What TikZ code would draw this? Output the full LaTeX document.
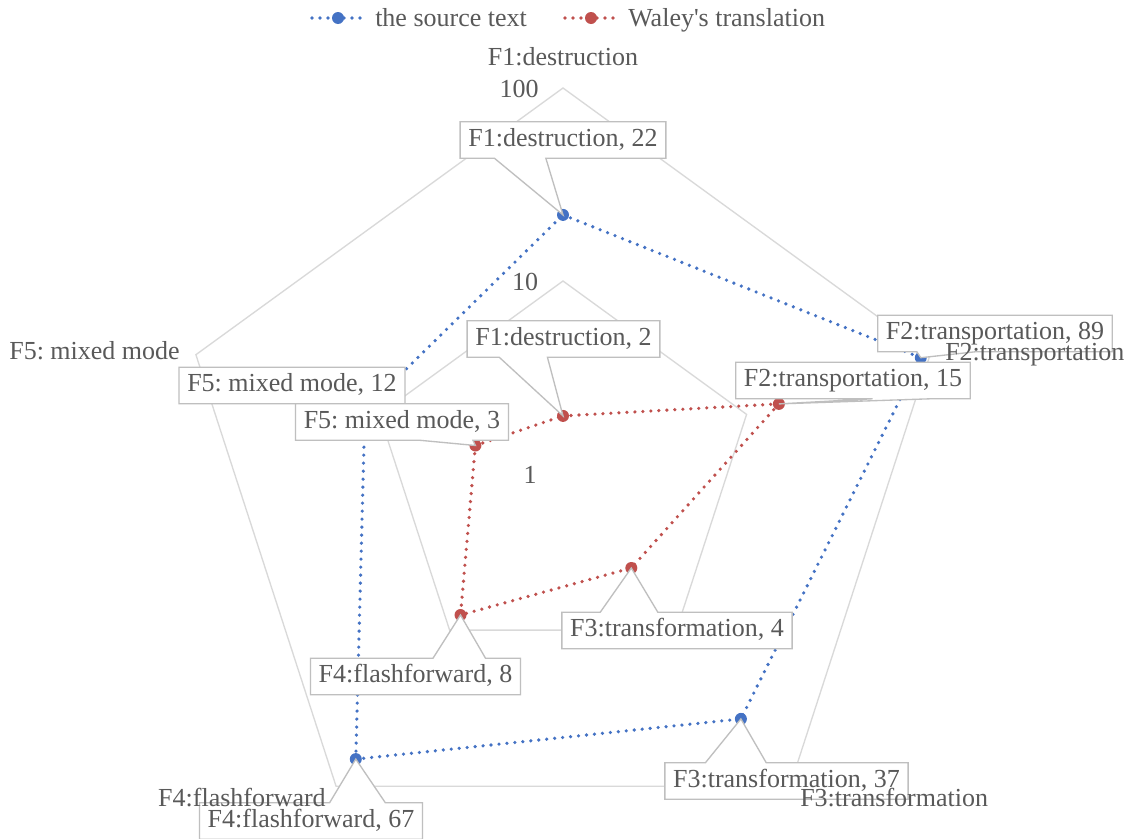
\documentclass[tikz,border=0pt]{standalone}
\usepackage{fontspec}
\setmainfont{Liberation Serif}[Ligatures=TeXOff]
\usetikzlibrary{calc}
\definecolor{txtgray}{RGB}{89,89,89}
\definecolor{gridgray}{RGB}{217,217,217}
\definecolor{boxgray}{RGB}{191,191,191}
\definecolor{srcblue}{RGB}{68,114,196}
\definecolor{walred}{RGB}{192,80,77}
\pgfdeclarelayer{bg}
\pgfdeclarelayer{back}
\pgfdeclarelayer{marks}
\pgfdeclarelayer{mid}
\pgfsetlayers{bg,back,marks,mid,main}
% callout outline with the wedge on the bottom edge: node, fraction1, fraction2, tip
\newcommand\cobottom[4]{%
  \begin{pgfonlayer}{mid}
  \draw[calloutline] (#1.north west) -- (#1.north east) -- (#1.south east)
    -- ($(#1.south west)!#3!(#1.south east)$) -- (#4)
    -- ($(#1.south west)!#2!(#1.south east)$) -- (#1.south west) -- cycle;
  \end{pgfonlayer}}
% callout outline with the wedge on the top edge
\newcommand\cotop[4]{%
  \begin{pgfonlayer}{mid}
  \draw[calloutline] (#1.south west) -- (#1.south east) -- (#1.north east)
    -- ($(#1.north west)!#3!(#1.north east)$) -- (#4)
    -- ($(#1.north west)!#2!(#1.north east)$) -- (#1.north west) -- cycle;
  \end{pgfonlayer}}
\frenchspacing
\begin{document}
\begin{tikzpicture}[x=0.75pt,y=-0.75pt,
  lbl/.style={font=\fontsize{19.5}{23}\selectfont, text=txtgray, inner sep=0pt,
              text height=13.5pt, text depth=4.2pt},
  callout/.style={lbl, inner xsep=6pt, minimum height=27pt},
  calloutline/.style={draw=boxgray, line width=1pt, fill=white, line join=miter},
  ringline/.style={draw=gridgray, line width=1pt},
  ser/.style={line width=2.7pt, dash pattern=on 0pt off 6pt, line cap=round},
  bmark/.style={circle, inner sep=0pt, minimum size=9pt, fill=srcblue},
  rmark/.style={circle, inner sep=0pt, minimum size=9pt, fill=walred},
]
\begin{pgfonlayer}{bg}
\fill[white] (0,0) rectangle (1129,839);
\end{pgfonlayer}
\useasboundingbox (0,0) rectangle (1129,839);

% ---------- grid rings (log axis: 1 at centre, 10, 100) ----------
\begin{pgfonlayer}{back}
\coordinate (O1) at (563,88);
\coordinate (O2) at (930.1,354.7);
\coordinate (O3) at (789.9,786.3);
\coordinate (O4) at (336.1,786.3);
\coordinate (O5) at (195.9,354.7);
\coordinate (M1) at (563,281);
\coordinate (M2) at (746.6,414.4);
\coordinate (M3) at (676.4,630.1);
\coordinate (M4) at (449.6,630.1);
\coordinate (M5) at (379.4,414.4);
\draw[ringline] (O1) -- (O2) -- (O3) -- (O4) -- (O5) -- cycle;
\draw[ringline] (M1) -- (M2) -- (M3) -- (M4) -- (M5) -- cycle;
\end{pgfonlayer}

% ---------- data markers ----------
\begin{pgfonlayer}{marks}
\node[bmark] (b1) at (563,214.9) {};
\node[bmark] (b2) at (920.8,357.7) {};
\node[bmark] (b3) at (740.9,718.9) {};
\node[bmark] (b4) at (355.8,759.1) {};
\node[bmark] (b5) at (364.9,409.6) {};
\node[rmark] (r1) at (563,415.9) {};
\node[rmark] (r2) at (778.9,403.9) {};
\node[rmark] (r3) at (631.3,568.0) {};
\node[rmark] (r4) at (460.5,615.0) {};
\node[rmark] (r5) at (475.4,445.5) {};
% legend markers
\node[bmark] (lgb) at (338,18) {};
\node[rmark] (lgr) at (591,18) {};
\end{pgfonlayer}

% ---------- series lines ----------
\begin{pgfonlayer}{back}
\draw[ser, srcblue] (b1.center) -- (b2.center) -- (b3.center) -- (b4.center) -- (b5.center) -- cycle;
\draw[ser, walred] (r1.center) -- (r2.center) -- (r3.center) -- (r4.center) -- (r5.center) -- cycle;
\coordinate (lgb1) at (312,18);
\coordinate (lgb2) at (366,18);
\coordinate (lgr1) at (565,18);
\coordinate (lgr2) at (619,18);
\draw[ser, srcblue] (lgb1) -- (lgb.center) -- (lgb2);
\draw[ser, walred] (lgr1) -- (lgr.center) -- (lgr2);
\end{pgfonlayer}

% ---------- legend text ----------
\node[lbl, anchor=west] (lgbt) at (375,20.6) {the source text};
\node[lbl, anchor=west] (lgrt) at (628,20.6) {Waley's translation};

% ---------- data callouts ----------
\node[callout] (c1) at (563,140) {F1:destruction, 22};
\cobottom{c1}{0.1667}{0.4167}{b1.center}
\node[callout] (c3) at (995,333.5) {F2:transportation, 89};
\cobottom{c3}{0.1667}{0.4167}{b2.center}
\node[callout] (c9) at (786.5,781) {F3:transformation, 37};
\cotop{c9}{0.1667}{0.4167}{b3.center}
\node[callout] (c10) at (311,821) {F4:flashforward, 67};
\cotop{c10}{0.5833}{0.8333}{b4.center}
\node[callout] (c5) at (292,385.5) {F5: mixed mode, 12};
\cobottom{c5}{0.5833}{0.8333}{b5.center}

\node[callout] (c2) at (563.5,339) {F1:destruction, 2};
\cobottom{c2}{0.1667}{0.4167}{r1.center}
\node[callout] (c4) at (853,380.5) {F2:transportation, 15};
\cobottom{c4}{0.5833}{0.8333}{r2.center}
\node[callout] (c7) at (677,630.5) {F3:transformation, 4};
\cotop{c7}{0.1667}{0.4167}{r3.center}
\node[callout] (c8) at (415.5,676.5) {F4:flashforward, 8};
\cotop{c8}{0.5833}{0.8333}{r4.center}
\node[callout] (c6) at (402,422) {F5: mixed mode, 3};
\cobottom{c6}{0.5833}{0.8333}{r5.center}

% ---------- axis labels and scale values ----------
\node[lbl] (a1) at (563,59.6) {F1:destruction};
\node[lbl, anchor=west] (a2) at (945,354.6) {F2:transportation};
\node[lbl, anchor=west] (a3) at (800,800.6) {F3:transformation};
\node[lbl, anchor=east] (a4) at (326,800.6) {F4:flashforward};
\node[lbl, anchor=east] (a5) at (180,353.6) {F5: mixed mode};
\node[lbl] (v100) at (519,91.6) {100};
\node[lbl] (v10) at (525,284.6) {10};
\node[lbl] (v1) at (530,477.6) {1};
\end{tikzpicture}
\end{document}
